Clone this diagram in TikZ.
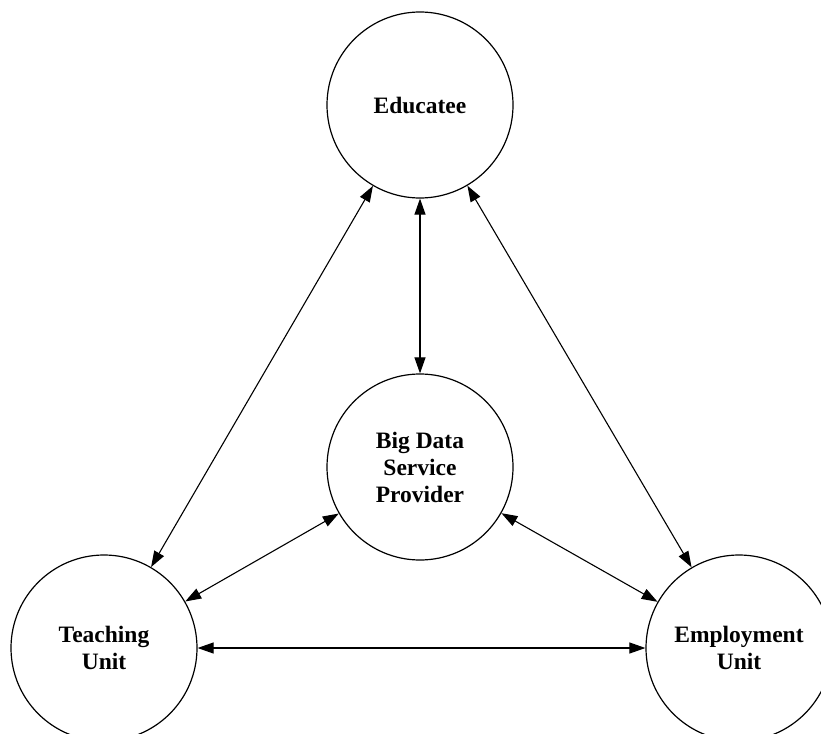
\documentclass[tikz,border=0pt]{standalone}
\usepackage{fontspec}
\setmainfont{Liberation Serif}
\usetikzlibrary{arrows.meta}
\begin{document}
\begin{tikzpicture}[x=1pt,y=-1pt,
  party/.style={draw, circle, line width=1.2pt, minimum size=186pt, inner sep=0pt,
    align=center, font=\fontsize{23.5}{27}\selectfont\bfseries},
  link/.style={line width=1.1pt, {Triangle[length=16pt,width=11pt]}-{Triangle[length=16pt,width=11pt]}}]
\useasboundingbox (0,0) rectangle (821,733);
\clip (0,0) rectangle (821,733);
\node[party] (edu) at (420,105) {Educatee};
\node[party] (big) at (420,467) {Big Data\\Service\\Provider};
\node[party] (teach) at (104,648) {Teaching\\Unit};
\node[party] (emp) at (739,648) {Employment\\Unit};
\draw[link] (edu) -- (big);
\draw[link] (edu) -- (teach);
\draw[link] (edu) -- (emp);
\draw[link] (big) -- (teach);
\draw[link] (big) -- (emp);
\draw[link] (teach) -- (emp);
\end{tikzpicture}
\end{document}
